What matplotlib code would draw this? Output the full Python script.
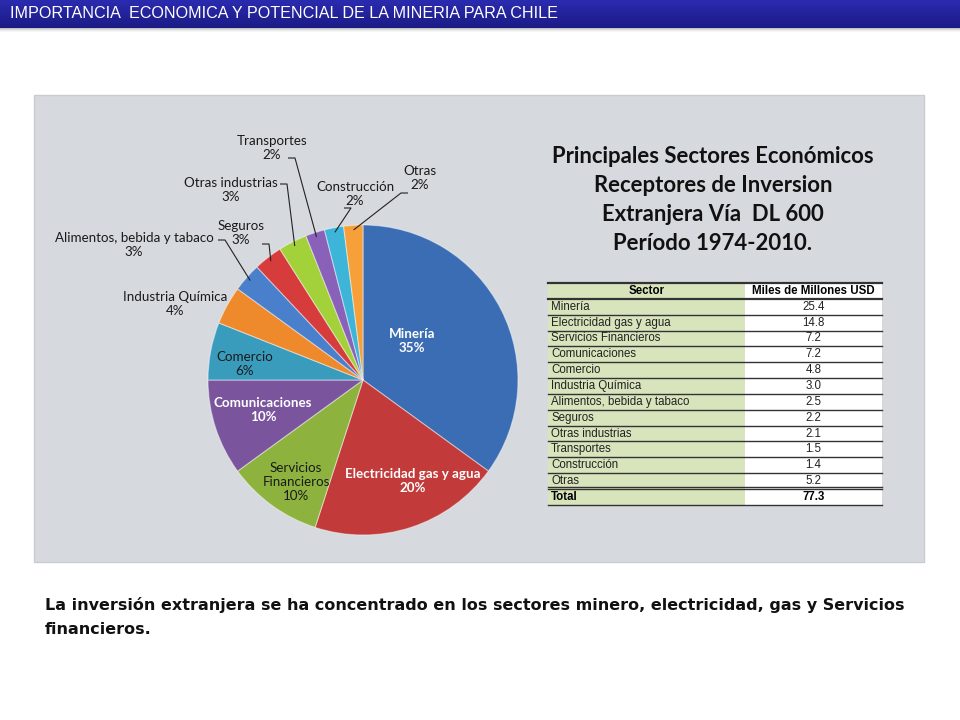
import matplotlib
matplotlib.use("Agg")
import matplotlib.pyplot as plt
import numpy as np
from matplotlib.patches import Rectangle
from matplotlib.colors import LinearSegmentedColormap

# ---------------- data ----------------
pie_labels = ["Minería", "Electricidad gas y agua", "Servicios\nFinancieros", "Comunicaciones",
              "Comercio", "Industria Química", "Alimentos, bebida y tabaco", "Seguros",
              "Otras industrias", "Transportes", "Construcción", "Otras"]
pie_pct = [35, 20, 10, 10, 6, 4, 3, 3, 3, 2, 2, 2]
pie_colors = ["#3A6DB3", "#C23A3A", "#8DB33E", "#7A559E", "#3A9CBD", "#EE8A2B",
              "#4A7FCB", "#D63C3C", "#A3D13A", "#8A61B8", "#3DB5D9", "#F7A03A"]

table_sectors = ["Minería", "Electricidad gas y agua", "Servicios Financieros", "Comunicaciones",
                 "Comercio", "Industria Química", "Alimentos, bebida y tabaco", "Seguros",
                 "Otras industrias", "Transportes", "Construcción", "Otras"]
table_values = [25.4, 14.8, 7.2, 7.2, 4.8, 3.0, 2.5, 2.2, 2.1, 1.5, 1.4, 5.2]
table_total = 77.3

title_lines = ["Principales Sectores Económicos", "Receptores de Inversion",
               "Extranjera Vía  DL 600", "Período 1974-2010."]
header_text = "IMPORTANCIA  ECONOMICA Y POTENCIAL DE LA MINERIA PARA CHILE"
footer_lines = ["La inversión extranjera se ha concentrado en los sectores minero, electricidad, gas y Servicios",
                "financieros."]

# ---------------- layout ----------------
W, H = 960, 720
CX, CY, R = 363, 380, 155   # pie centre / radius in pixels

def P(px, py):
    return ((px - CX) / R, (CY - py) / R)

def S(d):
    return d / R

fig = plt.figure(figsize=(9.6, 7.2), dpi=100)
fig.patch.set_facecolor("white")
ax = fig.add_axes([0, 0, 1, 1])

# header bar with gradient
grad = np.linspace(0, 1, 64).reshape(-1, 1)
cm = LinearSegmentedColormap.from_list("hb", ["#2B2BB0", "#1B1B86"])
x0, y0 = P(0, 0)
x1, y1 = P(W, 28)
ax.imshow(grad, cmap=cm, extent=[x0, x1, y1, y0], aspect="auto", zorder=1)
for i, a in enumerate([0.35, 0.22, 0.12, 0.05]):
    xa, ya = P(0, 28 + i)
    ax.add_patch(Rectangle((xa, ya - S(1)), S(W), S(1), color="#555555", alpha=a, lw=0, zorder=1))
hx, hy = P(10, 14)
ax.text(hx, hy, header_text, color="white", fontsize=11.6, va="center", ha="left",
        family=["Liberation Sans Narrow", "Liberation Sans", "DejaVu Sans"], zorder=3)

# grey panel
px0, py0 = P(34, 562)
ax.add_patch(Rectangle((px0, py0), S(890), S(467), facecolor="#D6D9DE",
                       edgecolor="#C8CBD0", lw=1, zorder=0.5))

# pie
wedges, _ = ax.pie(pie_pct, colors=pie_colors, startangle=90, counterclock=False,
                   radius=1, center=(0, 0),
                   wedgeprops=dict(edgecolor=(1, 1, 1, 0.45), linewidth=0.8))
for w in wedges:
    w.set_zorder(2)

cum = np.cumsum([0] + pie_pct)
mids = [90 - 3.6 * (cum[i] + cum[i + 1]) / 2 for i in range(len(pie_pct))]

lato = ["Lato", "DejaVu Sans"]
fs_lab = 9.6
inside = [(0, (412, 341), "white", True),
          (1, (413, 481), "white", True),
          (2, (296, 482), "#1A1A1A", False),
          (3, (263, 410), "white", True),
          (4, (245, 364), "#1A1A1A", False)]
for i, (tx, ty), col, bold in inside:
    x, y = P(tx, ty)
    ax.text(x, y, f"{pie_labels[i]}\n{pie_pct[i]}%", ha="center", va="center",
            fontsize=fs_lab, color=col, fontweight="bold" if bold else "normal",
            family=lato, linespacing=1.2, zorder=4)

outside = [(5, (175, 304), None),
           (6, (134, 245), (218, 240)),
           (7, (241, 233), (262, 244)),
           (8, (231, 190), (280, 184)),
           (9, (272, 148), (288, 158)),
           (10, (355, 194), (344, 208)),
           (11, (420, 178), (408, 193))]
for i, (tx, ty), start in outside:
    x, y = P(tx, ty)
    ax.text(x, y, f"{pie_labels[i]}\n{pie_pct[i]}%", ha="center", va="center",
            fontsize=fs_lab, color="#1A1A1A", family=lato, linespacing=1.2, zorder=4)
    if start is not None:
        a = np.deg2rad(mids[i])
        ex, ey = 0.97 * np.cos(a), 0.97 * np.sin(a)
        sx, sy = P(*start)
        kx = sx + S(7) * (1 if start[0] < CX else -1)
        ax.plot([sx, kx, ex], [sy, sy, ey], color="#222222", lw=0.8, zorder=3.5,
                solid_capstyle="butt")

# title
for k, line in enumerate(title_lines):
    x, y = P(713, 157 + 29 * k)
    ax.text(x, y, line, ha="center", va="center", fontsize=15.9, fontweight="bold",
            family=lato, color="#111111", zorder=4)

# table
TL, TM, TR = 548, 745, 882
top, rh = 283, 15.85
nrows = len(table_sectors) + 2
tx0, ty0 = P(TL, top + rh * nrows)
ax.add_patch(Rectangle((tx0, ty0), S(TM - TL), S(rh * nrows), facecolor="#D8E4BC", lw=0, zorder=2))
mx0, _ = P(TM, 0)
ax.add_patch(Rectangle((mx0, ty0), S(TR - TM), S(rh * nrows), facecolor="white", lw=0, zorder=2))
arial = ["Liberation Sans", "DejaVu Sans"]
fs_t = 8.3

def rowc(r):
    return top + rh * (r + 0.5)

x, y = P((TL + TM) / 2, rowc(0))
ax.text(x, y, "Sector", ha="center", va="center", fontsize=fs_t, fontweight="bold", family=arial, zorder=4)
x, y = P((TM + TR) / 2, rowc(0))
ax.text(x, y, "Miles de Millones USD", ha="center", va="center", fontsize=fs_t, fontweight="bold",
        family=arial, zorder=4)
for r, (s, v) in enumerate(zip(table_sectors, table_values), start=1):
    x, y = P(TL + 3, rowc(r))
    ax.text(x, y, s, ha="left", va="center", fontsize=fs_t, family=arial, color="#222222", zorder=4)
    x, y = P((TM + TR) / 2, rowc(r))
    ax.text(x, y, f"{v:.1f}", ha="center", va="center", fontsize=fs_t, family=arial, color="#222222", zorder=4)
r = nrows - 1
x, y = P(TL + 3, rowc(r))
ax.text(x, y, "Total", ha="left", va="center", fontsize=fs_t, fontweight="bold", family=arial, zorder=4)
x, y = P((TM + TR) / 2, rowc(r))
ax.text(x, y, f"{table_total:.1f}", ha="center", va="center", fontsize=fs_t, fontweight="bold",
        family=arial, zorder=4)

lx0, _ = P(TL, 0)
lx1, _ = P(TR, 0)
for r in range(nrows + 1):
    yy = top + rh * r
    _, ly = P(0, yy)
    lw = 1.6 if r in (0, 1) else 1.0
    ax.plot([lx0, lx1], [ly, ly], color="#333333", lw=lw, zorder=3)
    if r == nrows - 1:
        _, ly2 = P(0, yy - 2.5)
        ax.plot([lx0, lx1], [ly2, ly2], color="#333333", lw=1.0, zorder=3)

# footer text
for k, line in enumerate(footer_lines):
    x, y = P(45, 605 + 25 * k)
    ax.text(x, y, line, ha="left", va="center", fontsize=11.5, fontweight="bold",
            family=["DejaVu Sans"], color="#111111", zorder=4)

ax.set_xlim(-CX / R, (W - CX) / R)
ax.set_ylim((CY - H) / R, CY / R)
ax.set_aspect("auto")
ax.axis("off")

fig.savefig("out.png", dpi=100, facecolor="white")
